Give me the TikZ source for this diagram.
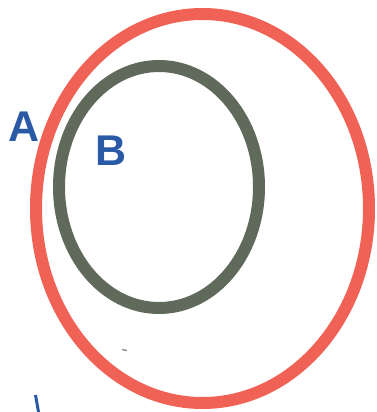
\documentclass[tikz,border=0pt]{standalone}
\usepackage{fontspec}
\setmainfont{Liberation Sans}
\definecolor{setred}{RGB}{240,98,86}
\definecolor{setgray}{RGB}{96,106,90}
\definecolor{setblue}{RGB}{42,90,165}
\tikzset{
  setA/.style={draw=setred, line width=12pt},
  setB/.style={draw=setgray, line width=12pt},
  setlabel/.style={text=setblue, font=\fontsize{43}{43}\selectfont\bfseries, inner sep=0pt, anchor=center}
}
\begin{document}
\begin{tikzpicture}[x=1pt, y=-1pt]
\useasboundingbox (0,0) rectangle (377,412);
\draw[setA] (202.5,208.5) ellipse [x radius=166.5, y radius=194.5];
\draw[setB] (159,187) ellipse [x radius=100, y radius=121];
\node[setlabel] (la) at (24,127) {A};
\node[setlabel] (lb) at (111,151) {B};
\draw[setgray!70, line width=1.5pt] (122,349.5) -- (127,350.5);
\draw[setblue, line width=3pt] (35.5,395) -- (38.5,412);
\end{tikzpicture}
\end{document}
